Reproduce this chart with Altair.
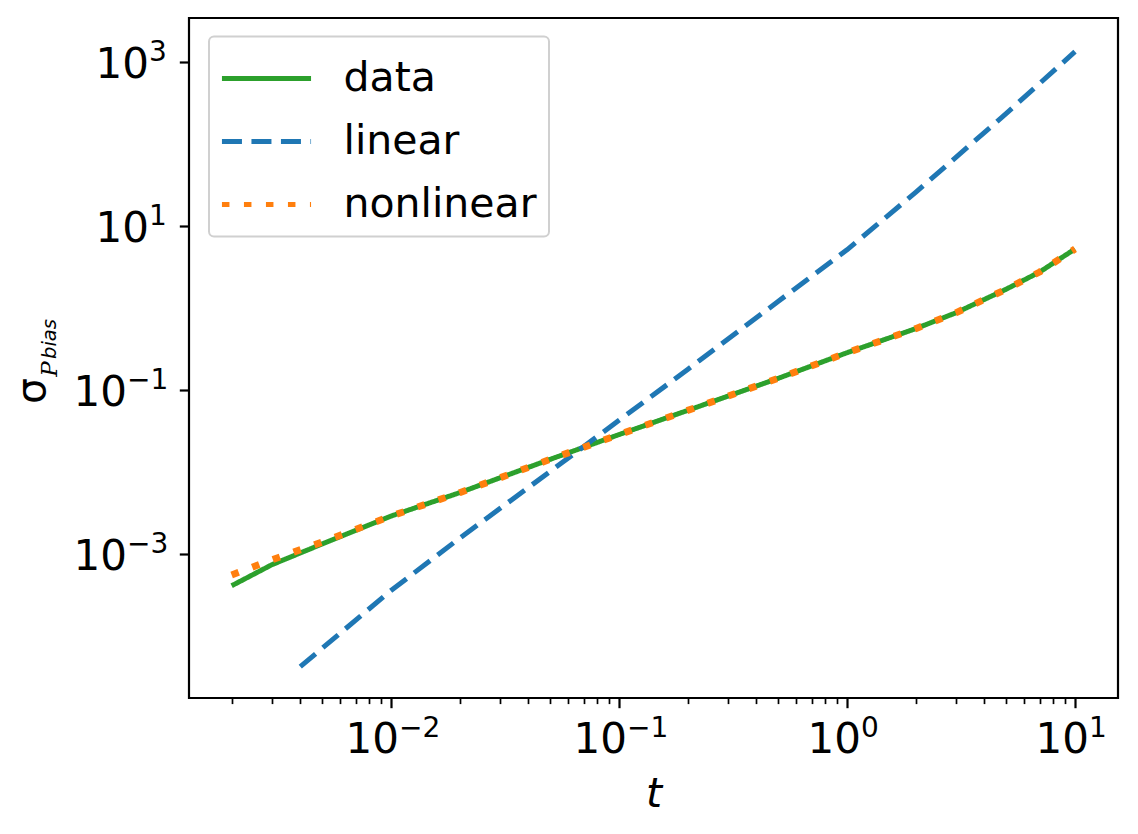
import altair as alt
import pandas as pd

# ---- data ----
series_names = ["data", "linear", "nonlinear"]
series_colors = ["#2ca02c", "#1f77b4", "#ff7f0e"]

t_data = [0.002, 0.003, 0.005, 0.01, 0.02, 0.05, 0.1, 0.2, 0.5, 1, 2, 3, 5, 7, 10]
sigma_data = [4.1e-4, 7.4e-4, 1.33e-3, 2.9e-3, 5.6e-3, 1.43e-2, 2.86e-2, 5.64e-2,
              0.139, 0.285, 0.56, 0.873, 1.70, 2.75, 5.25]

t_nonlinear = [0.002, 0.003, 0.005, 0.01, 0.02, 0.05, 0.1, 0.2, 0.5, 1, 2, 3, 5, 7, 10]
sigma_nonlinear = [5.55e-4, 8.5e-4, 1.40e-3, 2.9e-3, 5.6e-3, 1.43e-2, 2.86e-2, 5.64e-2,
                   0.139, 0.285, 0.56, 0.873, 1.70, 2.75, 5.25]

t_linear = [0.004, 0.01, 0.02, 0.05, 0.1, 0.2, 0.5, 1, 2, 5, 10]
sigma_linear = [4.23e-5, 3.59e-4, 1.56e-3, 1.02e-2, 4.27e-2, 0.178, 1.21, 5.13, 25.7, 237, 1337]

# axis ticks and tick labels
x_ticks = [0.002, 0.003, 0.004, 0.005, 0.006, 0.007, 0.008, 0.009, 0.01,
           0.02, 0.03, 0.04, 0.05, 0.06, 0.07, 0.08, 0.09, 0.1,
           0.2, 0.3, 0.4, 0.5, 0.6, 0.7, 0.8, 0.9, 1,
           2, 3, 4, 5, 6, 7, 8, 9, 10]
x_label_vals = [0.01, 0.1, 1, 10]
x_label_exps = ["−2", "−1", "0", "1"]
y_ticks = [1e-3, 1e-1, 1e1, 1e3]
y_label_vals = [1e-3, 1e-1, 1e1, 1e3]
y_label_exps = ["−3", "−1", "1", "3"]
x_domain = [0.0013, 15.44]
y_domain = [1.754e-5, 3443]

rows = []
for t, s in zip(t_data, sigma_data):
    rows.append({"t": t, "sigma": s, "series": "data"})
for t, s in zip(t_linear, sigma_linear):
    rows.append({"t": t, "sigma": s, "series": "linear"})
for t, s in zip(t_nonlinear, sigma_nonlinear):
    rows.append({"t": t, "sigma": s, "series": "nonlinear"})
df = pd.DataFrame(rows)

xlab_df = pd.DataFrame({"t": x_label_vals, "exp": x_label_exps})
ylab_df = pd.DataFrame({"sigma": y_label_vals, "exp": y_label_exps})

MAJ = "abs(log(datum.value)/LN10 - round(log(datum.value)/LN10)) < 0.001"
FONT = "DejaVu Sans"
TICK_FS = 42
SUP_FS = 28

x_scale = alt.Scale(type="log", domain=x_domain, nice=False)
y_scale = alt.Scale(type="log", domain=y_domain, nice=False)

x_axis = alt.Axis(
    values=x_ticks, labels=False, title="t", titleFontStyle="italic",
    titleFontSize=41, titleFont=FONT, titleFontWeight="normal", titleColor="black",
    titleBaseline="alphabetic", titleY=108,
    tickSize={"condition": {"test": MAJ, "value": 9.7}, "value": 5.6},
    tickWidth={"condition": {"test": MAJ, "value": 2.2}, "value": 1.7},
    grid=False, domain=False, tickColor="black",
)
y_axis = alt.Axis(
    values=y_ticks, labels=False, title=None,
    tickSize=9.7, tickWidth=2.2, tickColor="black",
    grid=False, domain=False,
)

legend = alt.Legend(
    title=None, orient="none", legendX=20, legendY=18.5,
    padding=12, symbolType="M-1.62,0L1.62,0", symbolSize=3025,
    symbolStrokeWidth=5, symbolOffset=15.5, labelOffset=47,
    labelFontSize=41, labelFont=FONT, labelColor="black", labelLimit=600,
    rowPadding=13, fillColor="white", strokeColor="#d0d0d0", cornerRadius=5,
)

color_scale = alt.Scale(domain=series_names, range=series_colors)
dash_scale = alt.Scale(domain=series_names, range=[[1, 0], [20, 9.5], [7.5, 14.5]])

base = alt.Chart(df).encode(
    x=alt.X("t:Q", scale=x_scale, axis=x_axis),
    y=alt.Y("sigma:Q", scale=y_scale, axis=y_axis),
    color=alt.Color("series:N", scale=color_scale, legend=legend),
    strokeDash=alt.StrokeDash("series:N", scale=dash_scale, legend=legend),
)

green = base.transform_filter("datum.series == 'data'").mark_line(
    strokeWidth=5, strokeCap="butt", strokeJoin="round")
blue = base.transform_filter("datum.series == 'linear'").mark_line(
    strokeWidth=5, strokeCap="butt", strokeJoin="round")
orange = base.transform_filter("datum.series == 'nonlinear'").mark_line(
    strokeWidth=7, strokeCap="butt", strokeJoin="round")

# ---- tick labels of the form 10^n (mantissa + superscript exponent) ----
def x_labels(filt, join):
    b = alt.Chart(xlab_df).transform_filter(filt)
    ten = b.mark_text(text="10", align="right", baseline="alphabetic", fontSize=TICK_FS,
                      font=FONT, color="black", dx=join).encode(
        x=alt.X("t:Q", scale=x_scale, axis=x_axis), y=alt.value(735))
    sup = b.mark_text(align="left", baseline="alphabetic", fontSize=SUP_FS,
                      font=FONT, color="black", dx=join).encode(
        x=alt.X("t:Q", scale=x_scale, axis=x_axis), y=alt.value(718.5), text="exp:N")
    return [ten, sup]


def y_labels(filt, join):
    b = alt.Chart(ylab_df).transform_filter(filt)
    ten = b.mark_text(text="10", align="right", baseline="alphabetic", fontSize=TICK_FS,
                      font=FONT, color="black", dy=15.5).encode(
        y=alt.Y("sigma:Q", scale=y_scale, axis=y_axis), x=alt.value(join))
    sup = b.mark_text(align="left", baseline="alphabetic", fontSize=SUP_FS,
                      font=FONT, color="black", dy=-1).encode(
        y=alt.Y("sigma:Q", scale=y_scale, axis=y_axis), x=alt.value(join), text="exp:N")
    return [ten, sup]


tick_layers = (x_labels("datum.t < 0.5", 8) + x_labels("datum.t > 0.5", 14)
               + y_labels("datum.sigma < 1", -62) + y_labels("datum.sigma > 1", -40))

# ---- y axis title: sigma with subscript P_bias ----
one = alt.Data(values=[{"k": 0}])
sig = alt.Chart(one).mark_text(text="σ", angle=270, fontSize=41, font=FONT,
                               align="center", baseline="alphabetic", color="black").encode(
    x=alt.value(-144), y=alt.value(373))
calp = alt.Chart(one).mark_text(text="P", angle=270, fontSize=23, font="DejaVu Serif",
                                fontStyle="italic", align="center", baseline="alphabetic",
                                color="black").encode(
    x=alt.value(-132), y=alt.value(351))
bias = alt.Chart(one).mark_text(text="bias", angle=270, fontSize=19.5, font=FONT,
                                fontStyle="italic", align="center", baseline="alphabetic",
                                color="black").encode(
    x=alt.value(-133.3), y=alt.value(321))

chart = alt.layer(green, blue, orange, *tick_layers, sig, calp, bias).properties(
    width=929, height=680,
    padding={"left": 181, "top": 10, "right": 12, "bottom": 128},
    autosize=alt.AutoSizeParams(type="none"),
    background="white",
).configure_view(stroke="black", strokeWidth=2.2).configure_legend(strokeWidth=2)

chart.save("out.html", embed_options={"renderer": "svg", "actions": False})
